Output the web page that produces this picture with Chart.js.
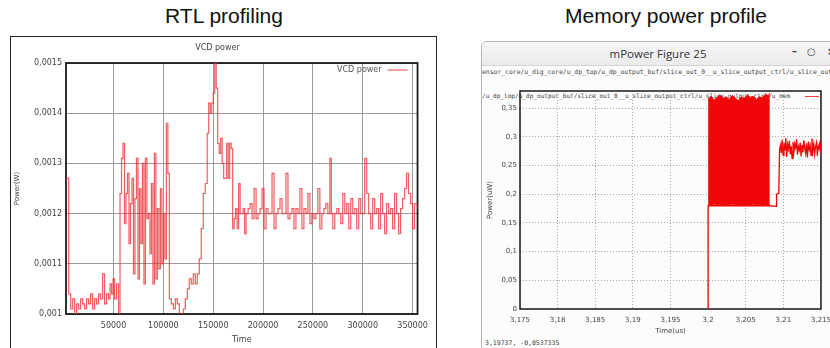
<!DOCTYPE html>
<html>
<head>
<meta charset="utf-8">
<title>RTL profiling vs memory power profile</title>
<script src="https://cdn.jsdelivr.net/npm/chart.js@4.4.1/dist/chart.umd.min.js"></script>
<style>
  html, body {
    margin: 0;
    padding: 0;
    width: 830px;
    height: 348px;
    overflow: hidden;
    background: #fff;
    font-family: "Liberation Sans", Arial, sans-serif;
  }
  .heading {
    position: absolute;
    top: 4px;
    font-size: 21px;
    color: #111;
    white-space: nowrap;
    transform: translateX(-50%);
  }
  #rtlBox {
    position: absolute;
    left: 10px;
    top: 36px;
    width: 425px;
    height: 330px;
    border: 1.5px solid #222;
    background: #fff;
  }
  #rtlChart { position: absolute; left: 12px; top: 38px; }
  #memWindow {
    position: absolute;
    left: 481px;
    top: 41px;
    width: 352px;
    height: 330px;
    border: 1px solid #b4b4b4;
    border-radius: 6px 6px 0 0;
    background: #fcfcfc;
    overflow: hidden;
  }
  #memTitleBar {
    height: 23px;
    background: linear-gradient(#f6f6f6, #ebebeb);
    border-bottom: 1px solid #d4d4d4;
    font-family: "Open Sans", "Noto Sans", sans-serif;
    font-size: 11.5px;
    color: #333;
    text-align: center;
    line-height: 23px;
  }
  .winBtn {
    position: absolute;
    top: 4px;
    font-family: "DejaVu Sans", sans-serif;
    font-size: 10px;
    color: #444;
    font-weight: bold;
  }
  .mono {
    position: absolute;
    font-family: "DejaVu Sans Mono", monospace;
    color: #444;
    white-space: nowrap;
  }
  #memChart { position: absolute; left: 482px; top: 80px; }
</style>
</head>
<body>
<div class="heading" style="left:224px;">RTL profiling</div>
<div class="heading" style="left:666px;">Memory power profile</div>

<div id="rtlBox"></div>
<canvas id="rtlChart" width="423" height="310"></canvas>

<div id="memWindow">
  <div id="memTitleBar">mPower Figure 25</div>
  <div class="winBtn" style="left:310px;">&ndash;</div>
  <div class="winBtn" style="left:325px;">&#9675;</div>
  <div class="winBtn" style="left:345px;">&times;</div>
</div>
<div class="mono" style="left:482px; top:68px; font-size:6.4px;">ensor_core/u_dig_core/u_dp_top/u_dp_output_buf/slice_out_0__u_slice_output_ctrl/u_slice_output_ctrl</div>
<div class="mono" style="left:482px; top:92px; font-size:6.1px;">/u_dp_top/u_dp_output_buf/slice_out_0__u_slice_output_ctrl/u_slice_output_ctrl/u_mem</div>
<div style="position:absolute; left:805px; top:96px; width:14px; height:1px; background:#f04040;"></div>
<div class="mono" style="left:485px; top:339px; font-size:6.5px;">3,19737, -0,0537335</div>
<canvas id="memChart" width="356" height="268"></canvas>

<script>
// RTL profiling: VCD power (W) against simulation time
var vcdTime = [
  2300, 5000, 7000, 9000, 11000, 13000, 15000, 17000, 19000, 21000,
  23000, 25000, 27000, 29000, 31000, 33000, 35000, 37000, 39000, 41000,
  43000, 45000, 46500, 48000, 49500, 51000, 53000, 55000, 56500, 58000,
  59500, 61000, 62500, 64000, 65500, 67000, 68500, 70000, 71500, 73000,
  74500, 76000, 77500, 79000, 80500, 82000, 83500, 85000, 86500, 88000,
  89500, 91000, 92500, 94000, 95500, 97000, 98500, 100000, 101500, 103000,
  104500, 106000, 108000, 110000, 112000, 114000, 116000, 118000, 120000, 122000,
  124000, 126000, 128000, 130000, 132000, 134000, 136000, 138000, 140000, 142000,
  144000, 145500, 147000, 148500, 150000, 151500, 153000, 154500, 156000, 157500,
  159000, 160500, 162000, 163500, 165000, 166500, 168000, 169500, 171000, 172500,
  174000, 175500, 177000, 178500, 180000, 181500, 183000, 185000, 187000, 189000,
  191000, 193000, 195000, 197000, 199000, 201000, 203000, 205000, 207000, 209000,
  211000, 213000, 215000, 217000, 219000, 221000, 223000, 225000, 227000, 229000,
  231000, 233000, 235000, 237000, 239000, 241000, 243000, 245000, 247000, 249000,
  251000, 253000, 255000, 257000, 259000, 261000, 263000, 265000, 267000, 268500,
  270000, 272000, 274000, 276000, 278000, 280000, 282000, 284000, 286000, 288000,
  290000, 292000, 294000, 296000, 298000, 300000, 302000, 304000, 306000, 308000,
  310000, 312000, 314000, 316000, 318000, 320000, 322000, 324000, 326000, 328000,
  330000, 332000, 334000, 336000, 338000, 340000, 342000, 344000, 346000, 348000,
  350000, 352000, 355000
];
var vcdPower = [
  0.00127, 0.00104, 0.00101, 0.00103, 0.00100, 0.00102, 0.00101, 0.00103, 0.00102, 0.00101,
  0.00103, 0.00102, 0.00104, 0.00101, 0.00103, 0.00102, 0.00104, 0.00103, 0.00108, 0.00102,
  0.00104, 0.00103, 0.00106, 0.00104, 0.00107, 0.00103, 0.00106, 0.00100, 0.00124, 0.00131,
  0.00134, 0.00118, 0.00124, 0.00128, 0.00114, 0.00122, 0.00127, 0.00108, 0.00123, 0.00131,
  0.00107, 0.00125, 0.00114, 0.00130, 0.00106, 0.00131, 0.00119, 0.00120, 0.00112, 0.00126,
  0.00106, 0.00132, 0.00107, 0.00121, 0.00109, 0.00125, 0.00110, 0.00120, 0.00111, 0.00138,
  0.00128, 0.00103, 0.00102, 0.00101, 0.00103, 0.00102, 0.00100, 0.00100, 0.00101, 0.00103,
  0.00105, 0.00107, 0.00106, 0.00108, 0.00106, 0.00108, 0.00111, 0.00117, 0.00124, 0.00126,
  0.00136, 0.00142, 0.00140, 0.00142, 0.00144, 0.00150, 0.00145, 0.00134, 0.00132, 0.00135,
  0.00130, 0.00127, 0.00127, 0.00134, 0.00127, 0.00134, 0.00133, 0.00117, 0.00119, 0.00121,
  0.00117, 0.00126, 0.00120, 0.00120, 0.00121, 0.00116, 0.00120, 0.00121, 0.00122, 0.00119,
  0.00125, 0.00119, 0.00120, 0.00121, 0.00125, 0.00117, 0.00121, 0.00120, 0.00120, 0.00128,
  0.00117, 0.00120, 0.00121, 0.00123, 0.00120, 0.00120, 0.00128, 0.00119, 0.00120, 0.00121,
  0.00117, 0.00121, 0.00120, 0.00125, 0.00117, 0.00121, 0.00120, 0.00124, 0.00118, 0.00120,
  0.00119, 0.00120, 0.00125, 0.00117, 0.00120, 0.00121, 0.00122, 0.00120, 0.00131, 0.00120,
  0.00117, 0.00120, 0.00121, 0.00120, 0.00118, 0.00124, 0.00120, 0.00122, 0.00117, 0.00123,
  0.00120, 0.00121, 0.00117, 0.00123, 0.00120, 0.00120, 0.00131, 0.00124, 0.00120, 0.00117,
  0.00123, 0.00120, 0.00121, 0.00117, 0.00124, 0.00120, 0.00116, 0.00122, 0.00120, 0.00121,
  0.00117, 0.00124, 0.00120, 0.00116, 0.00121, 0.00123, 0.00125, 0.00128, 0.00124, 0.00122,
  0.00117, 0.00122, 0.00121
];
var rtlXTicks = [50000, 100000, 150000, 200000, 250000, 300000, 350000];
var rtlYTicks = [0.001, 0.0011, 0.0012, 0.0013, 0.0014, 0.0015];

// Memory power profile: power (uW) against time (us)
var memTime = [
  3.2, 3.2, 3.2082, 3.2091, 3.2091, 3.2093, 3.2094, 3.2095,
  3.2096, 3.20972, 3.20984, 3.20996, 3.21008, 3.2102, 3.21032, 3.21044, 3.21056, 3.21068,
  3.2108, 3.21092, 3.21104, 3.21116, 3.21128, 3.2114, 3.21152, 3.21164, 3.21176, 3.21188,
  3.212, 3.21212, 3.21224, 3.21236, 3.21248, 3.2126, 3.21272, 3.21284, 3.21296, 3.21308,
  3.2132, 3.21332, 3.21344, 3.21356, 3.21368, 3.2138, 3.21392, 3.21404, 3.21416, 3.21428,
  3.2144, 3.21452, 3.21464, 3.21476, 3.21488, 3.215
];
var memPower = [
  0, 0.18, 0.18, 0.179, 0.2, 0.202, 0.21, 0.278,
  0.285, 0.272, 0.295, 0.268, 0.289, 0.276, 0.298, 0.265, 0.287, 0.279,
  0.293, 0.27, 0.284, 0.262, 0.291, 0.274, 0.288, 0.281, 0.296, 0.269,
  0.283, 0.277, 0.29, 0.266, 0.286, 0.273, 0.294, 0.28, 0.271, 0.289,
  0.264, 0.292, 0.278, 0.285, 0.268, 0.297, 0.275, 0.287, 0.27, 0.283,
  0.29, 0.267, 0.284, 0.279, 0.293, 0.272
];
// dense switching burst, kept as its upper and lower envelope
var burstTime = [
  3.2, 3.2004, 3.2008, 3.2012, 3.2016, 3.202, 3.2024, 3.2028, 3.2032, 3.2036, 3.204,
  3.2044, 3.2048, 3.2052, 3.2056, 3.206, 3.2064, 3.2068, 3.2072, 3.2076, 3.208, 3.2082
];
var burstHigh = [
  0.366, 0.371, 0.364, 0.369, 0.373, 0.367, 0.37, 0.365, 0.372, 0.368, 0.363,
  0.37, 0.366, 0.373, 0.369, 0.371, 0.365, 0.37, 0.368, 0.374, 0.372, 0.376
];
var burstLow = [
  0.182, 0.181, 0.183, 0.181, 0.182, 0.18, 0.182, 0.181, 0.183, 0.182, 0.181,
  0.182, 0.18, 0.182, 0.181, 0.183, 0.181, 0.182, 0.18, 0.182, 0.181, 0.182
];
var memXTicks = [3.175, 3.18, 3.185, 3.19, 3.195, 3.2, 3.205, 3.21, 3.215];
var memYTicks = [0, 0.05, 0.1, 0.15, 0.2, 0.25, 0.3, 0.35];

/**
 * Zip two arrays into Chart.js {x, y} points.
 */
function toPoints( xs, ys ) {
	return xs.map( function( x, i ) {
		return { x: x, y: ys[ i ] };
	} );
}

/**
 * Gnuplot style decimal comma labels.
 */
function commaLabel( value ) {
	return String( value ).replace( '.', ',' );
}

function fixedTicks( list ) {
	return function( scale ) {
		scale.ticks = list.map( function( v ) {
			return { value: v };
		} );
	};
}

// Frame drawn around the plot area, like gnuplot's border.
var framePlugin = {
	id: 'frame',
	beforeDatasetsDraw: function( chart, args, opts ) {
		var a = chart.chartArea;
		var ctx = chart.ctx;
		ctx.save();
		ctx.strokeStyle = opts.color;
		ctx.lineWidth = opts.width;
		ctx.strokeRect( a.left, a.top, a.right - a.left, a.bottom - a.top );
		ctx.restore();
	}
};

// Key in the top right corner: text first, then a line sample.
var keyPlugin = {
	id: 'key',
	afterDatasetsDraw: function( chart, args, opts ) {
		if ( ! opts.text ) {
			return;
		}
		var a = chart.chartArea;
		var ctx = chart.ctx;
		var y = a.top + 7;
		ctx.save();
		ctx.font = '8px "DejaVu Sans"';
		ctx.fillStyle = '#555';
		ctx.textAlign = 'right';
		ctx.textBaseline = 'middle';
		ctx.fillText( opts.text, a.right - 36, y );
		ctx.strokeStyle = opts.color;
		ctx.lineWidth = 1.2;
		ctx.beginPath();
		ctx.moveTo( a.right - 30, y );
		ctx.lineTo( a.right - 10, y );
		ctx.stroke();
		ctx.restore();
	}
};

var tickFont = { family: '"DejaVu Sans"', size: 8 };
var vcdRed = 'rgba(236, 48, 52, 0.78)';

new Chart( document.getElementById( 'rtlChart' ), {
	type: 'line',
	data: {
		datasets: [ {
			label: 'VCD power',
			data: toPoints( vcdTime, vcdPower ),
			stepped: true,
			borderColor: vcdRed,
			borderWidth: 1.2,
			pointRadius: 0,
			fill: false
		} ]
	},
	options: {
		responsive: false,
		animation: false,
		layout: { padding: { left: 0, right: 12, top: 0, bottom: 0 }, autoPadding: false },
		plugins: {
			legend: { display: false },
			tooltip: { enabled: false },
			title: {
				display: true,
				text: 'VCD power',
				color: '#444',
				font: { family: '"DejaVu Sans"', size: 8, weight: 'normal', lineHeight: 1.2 },
				padding: { top: 5, bottom: 10.4 }
			},
			frame: { color: '#1a1a1a', width: 1.8 },
			key: { text: 'VCD power', color: vcdRed }
		},
		scales: {
			x: {
				type: 'linear',
				min: 2300,
				max: 355000,
				afterBuildTicks: fixedTicks( rtlXTicks ),
				afterFit: function( s ) { s.height = 34; },
				grid: { color: '#9a9a9a', lineWidth: 1, drawTicks: false },
				border: { display: false },
				ticks: {
					color: '#444',
					font: tickFont,
					padding: 7,
					maxRotation: 0,
					autoSkip: false,
					callback: function( v ) { return String( v ); }
				},
				title: {
					display: true,
					text: 'Time',
					color: '#444',
					font: { family: '"DejaVu Sans"', size: 8, lineHeight: 1.2 },
					padding: { top: 0, bottom: 3.2 }
				}
			},
			y: {
				min: 0.001,
				max: 0.0015,
				afterBuildTicks: fixedTicks( rtlYTicks ),
				afterFit: function( s ) { s.width = 54; },
				grid: { color: '#9a9a9a', lineWidth: 1, drawTicks: false },
				border: { display: false },
				ticks: {
					color: '#444',
					font: tickFont,
					padding: 4,
					callback: commaLabel
				},
				title: {
					display: true,
					text: 'Power(W)',
					color: '#444',
					font: { family: '"DejaVu Sans"', size: 7, lineHeight: 1.2 },
					padding: { top: 1, bottom: 0 }
				}
			}
		}
	},
	plugins: [ framePlugin, keyPlugin ]
} );

var memRed = '#f00808';
var memFont = { family: '"DejaVu Sans"', size: 7 };

new Chart( document.getElementById( 'memChart' ), {
	type: 'line',
	data: {
		datasets: [
			{
				label: 'burst max',
				data: toPoints( burstTime, burstHigh ),
				borderColor: memRed,
				backgroundColor: memRed,
				borderWidth: 1,
				pointRadius: 0,
				fill: '+1'
			},
			{
				label: 'burst min',
				data: toPoints( burstTime, burstLow ),
				borderColor: memRed,
				borderWidth: 1,
				pointRadius: 0,
				fill: false
			},
			{
				label: 'u_mem',
				data: toPoints( memTime, memPower ),
				borderColor: memRed,
				borderWidth: 1.3,
				pointRadius: 0,
				fill: false
			}
		]
	},
	options: {
		responsive: false,
		animation: false,
		layout: { padding: { left: 0, right: 9.2, top: 11, bottom: 0 }, autoPadding: false },
		plugins: {
			legend: { display: false },
			tooltip: { enabled: false },
			frame: { color: '#1a1a1a', width: 1.5 }
		},
		scales: {
			x: {
				type: 'linear',
				min: 3.175,
				max: 3.215,
				afterBuildTicks: fixedTicks( memXTicks ),
				afterFit: function( s ) { s.height = 39; },
				grid: { color: '#a8a8a8', lineWidth: 1, drawTicks: false },
				border: { display: false, dash: [ 1, 2 ] },
				ticks: {
					color: '#444',
					font: memFont,
					padding: 7,
					maxRotation: 0,
					autoSkip: false,
					callback: commaLabel
				},
				title: {
					display: true,
					text: 'Time(us)',
					color: '#444',
					font: { family: '"DejaVu Sans"', size: 7, lineHeight: 1.2 },
					padding: { top: 0, bottom: 12.8 }
				}
			},
			y: {
				min: 0,
				max: 0.38,
				afterBuildTicks: fixedTicks( memYTicks ),
				afterFit: function( s ) { s.width = 38; },
				grid: { color: '#a8a8a8', lineWidth: 1, drawTicks: false },
				border: { display: false, dash: [ 1, 2 ] },
				ticks: {
					color: '#444',
					font: memFont,
					padding: 3,
					callback: commaLabel
				},
				title: {
					display: true,
					text: 'Power(uW)',
					color: '#444',
					font: { family: '"DejaVu Sans"', size: 7, lineHeight: 1.2 },
					padding: { top: 3.8, bottom: 0 }
				}
			}
		}
	},
	plugins: [ framePlugin ]
} );
</script>
</body>
</html>
